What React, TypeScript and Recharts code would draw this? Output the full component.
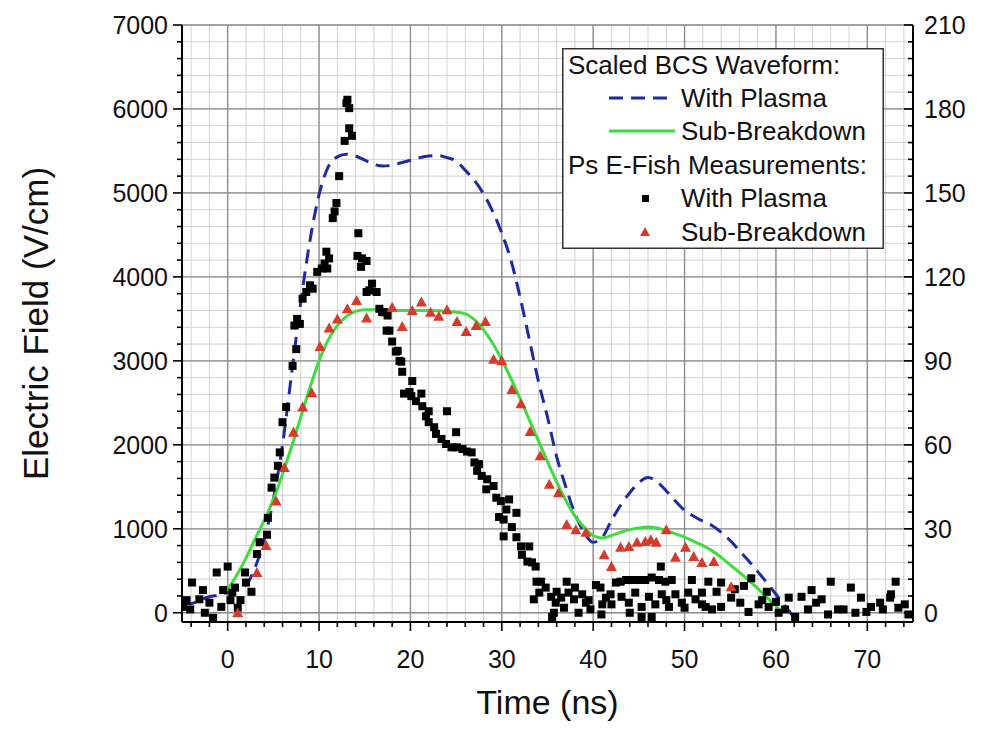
import React from 'react';
import { ComposedChart, XAxis, YAxis, CartesianGrid, Scatter, Line, Legend, Label } from 'recharts';

const FONT = '"Liberation Sans", Arial, Helvetica, sans-serif';

// ---- axes / ticks ----
const xDomain = [-5, 75];
const yDomain = [-110, 7000];
const xMajorTicks = [0, 10, 20, 30, 40, 50, 60, 70];
const xTickLabels = ['0', '10', '20', '30', '40', '50', '60', '70'];
const xMinorTicks = [-4, -2, 0, 2, 4, 6, 8, 10, 12, 14, 16, 18, 20, 22, 24, 26, 28, 30, 32, 34, 36, 38, 40, 42, 44, 46, 48, 50, 52, 54, 56, 58, 60, 62, 64, 66, 68, 70, 72, 74];
const yMajorTicks = [0, 1000, 2000, 3000, 4000, 5000, 6000, 7000];
const yLeftTickLabels = ['0', '1000', '2000', '3000', '4000', '5000', '6000', '7000'];
const yRightTickLabels = ['0', '30', '60', '90', '120', '150', '180', '210'];
const yMinorTicks = [0, 200, 400, 600, 800, 1000, 1200, 1400, 1600, 1800, 2000, 2200, 2400, 2600, 2800, 3000, 3200, 3400, 3600, 3800, 4000, 4200, 4400, 4600, 4800, 5000, 5200, 5400, 5600, 5800, 6000, 6200, 6400, 6600, 6800, 7000];

const xTitle = 'Time (ns)';
const yTitle = 'Electric Field (V/cm)';

// ---- series names ----
const legendHeader1 = 'Scaled BCS Waveform:';
const legendHeader2 = 'Ps E-Fish Measurements:';
const nameWithPlasma = 'With Plasma';
const nameSubBreakdown = 'Sub-Breakdown';

// ---- colours ----
const BLUE = '#1f2a9e';
const GREEN = '#3fdc3f';
const RED = '#d63a2b';
const BLACK = '#000000';

// ---- data: Scaled BCS waveform, with plasma (time ns, field V/cm) ----
const bcsWithPlasma: [number, number][] = [
  [-5, 100], [-4, 110], [-3, 150], [-2, 190], [-1, 210], [0, 240], [1, 280], [2, 330], [3, 540], [4, 870],
  [5, 1350], [6, 2000], [7, 2850], [8, 3700], [9, 4430], [10, 4980], [11, 5310], [12, 5430], [13, 5460],
  [14, 5440], [15, 5390], [16, 5340], [17, 5320], [18, 5330], [19, 5360], [20, 5390], [21, 5420], [22, 5440],
  [23, 5445], [24, 5420], [25, 5380], [26, 5270], [27, 5150], [28, 4990], [29, 4780], [30, 4520], [31, 4200],
  [32, 3760], [33, 3260], [34, 2760], [35, 2330], [36, 1860], [37, 1500], [38, 1180], [39, 960], [40, 840],
  [41, 900], [42, 1100], [43, 1280], [44, 1430], [45, 1550], [46, 1610], [47, 1560], [48, 1450], [49, 1330],
  [50, 1220], [51, 1150], [52, 1090], [53, 1040], [54, 960], [55, 860], [56, 740], [57, 620], [58, 490],
  [59, 360], [60, 220], [61, 80], [62, -60],
];

// ---- data: Scaled BCS waveform, sub-breakdown ----
const bcsSubBreakdown: [number, number][] = [
  [0, 280], [1, 450], [2, 650], [3, 880], [4, 1100], [5, 1350], [6, 1650], [7, 1980], [8, 2330], [9, 2680],
  [10, 3000], [11, 3250], [12, 3420], [13, 3530], [14, 3590], [15, 3610], [16, 3610], [18, 3600], [20, 3600],
  [22, 3600], [24, 3590], [26, 3560], [27, 3490], [28, 3370], [29, 3210], [30, 3010], [31, 2790], [32, 2550],
  [33, 2300], [34, 2050], [35, 1800], [36, 1560], [37, 1340], [38, 1150], [39, 1020], [40, 920], [41, 890],
  [42, 920], [43, 960], [44, 990], [45, 1010], [46, 1020], [47, 1010], [48, 980], [49, 940], [50, 900],
  [51, 850], [52, 800], [53, 740], [54, 660], [55, 570], [56, 480], [57, 390], [58, 290], [59, 180], [60, 80],
  [60.6, 10],
];

// ---- data: Ps E-FISH measurements, sub-breakdown (triangles) ----
const efishSubBreakdown: [number, number][] = [
  [1.1, 0], [3.2, 480], [4.2, 800], [5.3, 1330], [6.2, 1730], [7.2, 2150], [8.2, 2450], [9.2, 2620],
  [10.1, 3170], [11.1, 3390], [12.0, 3500], [13.1, 3620], [14.1, 3720], [15.2, 3510], [18.0, 3640],
  [19.1, 3410], [20.2, 3600], [21.2, 3700], [22.2, 3580], [23.1, 3530], [24.0, 3610], [25.1, 3470],
  [26.1, 3350], [27.2, 3420], [28.2, 3470], [29.1, 3020], [30.0, 3000], [31.1, 2660], [32.1, 2490],
  [33.1, 2160], [34.2, 1870], [35.2, 1530], [36.2, 1430], [37.1, 1050], [38.1, 990], [39.2, 960],
  [41.2, 690], [42.0, 550], [43.0, 780], [43.9, 790], [44.8, 840], [45.7, 850], [46.3, 870], [46.9, 840],
  [48.0, 990], [49.0, 660], [50.1, 780], [51.0, 670], [51.9, 600], [53.2, 610], [55.1, 310],
];

// ---- data: Ps E-FISH measurements, with plasma (squares) ----
const efishWithPlasma: [number, number][] = [
  [-4.9, 70], [-4.5, 150], [-4.1, 40], [-3.9, 360], [-3.1, 160], [-2.7, 270], [-2.5, 0], [-2.0, 120],
  [-1.6, -60], [-1.2, 480], [-0.7, 70], [-0.5, 270], [0.0, 550], [0.3, 150], [0.5, 240], [0.8, 300],
  [1.1, 60], [1.4, 150], [1.9, 480], [2.0, 360], [2.6, 250], [3.2, 700], [3.5, 840], [4.3, 930],
  [4.4, 1130], [4.8, 1490], [5.1, 1610], [5.5, 1750], [5.7, 1910], [6.0, 2270], [6.4, 2450], [7.1, 2940],
  [7.3, 3420], [7.5, 3140], [7.6, 3500], [7.9, 3440], [8.2, 3740], [8.6, 3820], [9.0, 3900], [9.3, 3860],
  [9.8, 4060], [10.3, 4100], [10.6, 4160], [10.8, 4300], [10.9, 4100], [11.1, 4220], [11.5, 4700],
  [11.7, 4780], [11.9, 4880], [12.2, 5200], [12.8, 5620], [13.0, 6070], [13.1, 6110], [13.3, 6010],
  [13.3, 5770], [13.6, 5680], [14.2, 4250], [14.3, 4520], [14.6, 4120], [14.7, 4220], [15.2, 4190],
  [15.2, 3820], [15.5, 3840], [15.8, 3920], [16.3, 3820], [16.6, 3620], [16.9, 3580], [17.1, 3580],
  [17.4, 3360], [17.5, 3540], [17.7, 3360], [18.0, 3230], [18.4, 3110], [18.6, 3120], [18.8, 3000],
  [19.0, 2990], [19.1, 2870], [19.3, 2610], [19.9, 2630], [20.1, 2580], [20.2, 2760], [20.6, 2520],
  [21.2, 2610], [21.3, 2460], [21.7, 2340], [22.0, 2400], [22.0, 2270], [22.6, 2210], [22.8, 2130],
  [23.4, 2070], [23.9, 2010], [24.0, 2400], [24.5, 1970], [25.0, 2150], [25.1, 1970], [25.7, 1950],
  [26.2, 1920], [26.7, 1910], [27.0, 1790], [27.3, 1690], [27.5, 1770], [27.8, 1630], [28.3, 1470],
  [28.4, 1590], [29.1, 1510], [29.4, 1370], [29.7, 1140], [29.9, 1330], [30.2, 1110], [30.2, 910],
  [30.5, 1230], [30.8, 1350], [31.1, 1020], [31.6, 1190], [31.6, 900], [32.1, 790], [32.2, 690],
  [32.8, 610], [33.0, 790], [33.3, 600], [33.5, 160], [33.7, 550], [33.8, 370], [34.1, 240], [34.3, 370],
  [34.8, 300], [35.4, 190], [35.5, -50], [35.7, 0], [35.9, 120], [36.0, 250], [36.5, 180], [36.8, 60],
  [37.1, 370], [37.3, 240], [37.9, 160], [38.0, 300], [38.4, 0], [38.8, 220], [39.2, 120], [39.5, 150],
  [39.7, 40], [40.3, 330], [40.8, 300], [40.9, -20], [41.0, 100], [41.4, 180], [41.9, 220], [42.0, 100],
  [42.5, 360], [43.0, 370], [43.1, 190], [43.6, 390], [43.9, 120], [44.0, 0], [44.2, 390], [44.6, 240],
  [45.0, 390], [45.3, 70], [45.3, -50], [45.7, 390], [46.1, 190], [46.4, 420], [46.4, -50], [46.8, 100],
  [47.2, 390], [47.4, 550], [47.5, 220], [47.9, 370], [48.0, 150], [48.3, 70], [48.6, 390], [49.0, 220],
  [49.7, 120], [50.0, 60], [50.4, 240], [50.8, 390], [51.2, 160], [51.9, 240], [51.9, 100], [52.3, 70],
  [52.6, 370], [53.0, 40], [53.5, 250], [54.0, 360], [54.0, 70], [55.1, 180], [55.5, 280], [56.1, 120],
  [56.5, 320], [57.0, 10], [57.3, 410], [58.1, 100], [58.5, 150], [59.0, 250], [59.2, 70], [60.0, 130],
  [60.3, 0], [61.0, 40], [61.4, 180], [62.1, -50], [62.8, 190], [63.5, 40], [63.9, 270], [64.4, 120],
  [65.0, 160], [65.7, -20], [66.0, 370], [66.8, 40], [67.4, 40], [68.2, 300], [68.7, 0], [69.3, 180],
  [69.9, 10], [70.4, 70], [71.4, 120], [71.7, 40], [72.5, 180], [72.6, 220], [73.1, 370], [73.4, 60],
  [74.1, 100], [74.5, -20],
];

const toXY = (arr: [number, number][]) => arr.map(([x, y]) => ({ x, y }));

// ---- custom ticks ----
const BottomTick = (props: any) => {
  const { x, y, payload } = props;
  const i = xMajorTicks.indexOf(payload.value);
  const major = i >= 0;
  return (
    <g>
      <line x1={x} y1={y} x2={x} y2={y + (major ? 9 : 5)} stroke="#000" strokeWidth={1.6} />
      {major && (
        <text x={x} y={y + 46} textAnchor="middle" fontSize={25} fontFamily={FONT} fill="#111">
          {xTickLabels[i]}
        </text>
      )}
    </g>
  );
};

const TopTick = (props: any) => {
  const { x, y, payload } = props;
  const major = xMajorTicks.indexOf(payload.value) >= 0;
  return <line x1={x} y1={y} x2={x} y2={y + (major ? 9 : 5)} stroke="#000" strokeWidth={1.6} />;
};

const LeftTick = (props: any) => {
  const { x, y, payload } = props;
  const i = yMajorTicks.indexOf(payload.value);
  const major = i >= 0;
  return (
    <g>
      <line x1={x} y1={y} x2={x - (major ? 9 : 5)} y2={y} stroke="#000" strokeWidth={1.6} />
      {major && (
        <text x={x - 14} y={y} dy="0.36em" textAnchor="end" fontSize={25} fontFamily={FONT} fill="#111">
          {yLeftTickLabels[i]}
        </text>
      )}
    </g>
  );
};

const RightTick = (props: any) => {
  const { x, y, payload } = props;
  const i = yMajorTicks.indexOf(payload.value);
  const major = i >= 0;
  return (
    <g>
      <line x1={x} y1={y} x2={x - (major ? 9 : 5)} y2={y} stroke="#000" strokeWidth={1.6} />
      {major && (
        <text x={x + 11} y={y} dy="0.36em" textAnchor="start" fontSize={25} fontFamily={FONT} fill="#111">
          {yRightTickLabels[i]}
        </text>
      )}
    </g>
  );
};

// ---- markers ----
const SquareShape = (p: any) => (
  <rect x={p.cx - 4} y={p.cy - 4} width={8} height={8} fill={BLACK} />
);
const TriangleShape = (p: any) => (
  <path d={`M${p.cx},${p.cy - 5.5} L${p.cx + 5.5},${p.cy + 4.5} L${p.cx - 5.5},${p.cy + 4.5} Z`} fill={RED} />
);

// ---- titles ----
const YTitle = (props: any) => {
  const vb = props.viewBox || { x: 0, y: 0, width: 0, height: 0 };
  const cx = vb.x + 31;
  const cy = vb.y + vb.height / 2;
  return (
    <text transform={`translate(${cx},${cy}) rotate(-90)`} textAnchor="middle" fontSize={35} fontFamily={FONT} fill="#111">
      {yTitle}
    </text>
  );
};
const XTitle = (props: any) => {
  const vb = props.viewBox || { x: 0, y: 0, width: 0, height: 0 };
  return (
    <text x={vb.x + vb.width / 2} y={vb.y + 92} textAnchor="middle" fontSize={34} fontFamily={FONT} fill="#111">
      {xTitle}
    </text>
  );
};

// ---- legend ----
const LEG_FS = 26;
const renderLegend = () => (
  <svg width={322} height={201} style={{ display: 'block', overflow: 'visible' }}>
    <rect x={0.75} y={0.75} width={320.5} height={199.5} fill="#fff" stroke="#333" strokeWidth={1.5} />
    <g fontFamily={FONT} fontSize={LEG_FS} fill="#111">
      <text x={6} y={17} dominantBaseline="central">{legendHeader1}</text>
      <line x1={47} y1={50} x2={113} y2={50} stroke={BLUE} strokeWidth={3} strokeDasharray="14 8" />
      <text x={119} y={50} dominantBaseline="central">{nameWithPlasma}</text>
      <line x1={47} y1={83} x2={113} y2={83} stroke={GREEN} strokeWidth={3} />
      <text x={119} y={83} dominantBaseline="central">{nameSubBreakdown}</text>
      <text x={6} y={117} dominantBaseline="central">{legendHeader2}</text>
      <rect x={80} y={147} width={7} height={7} fill={BLACK} />
      <text x={119} y={150} dominantBaseline="central">{nameWithPlasma}</text>
      <path d="M83,179 L88,188 L78,188 Z" fill={RED} />
      <text x={119} y={184} dominantBaseline="central">{nameSubBreakdown}</text>
    </g>
  </svg>
);

export default function App() {
  return (
    <div style={{ width: 970, height: 715, fontFamily: FONT }}>
      <ComposedChart
        width={970}
        height={715}
        margin={{ top: 17, right: 5, bottom: 11, left: 9 }}
        style={{ background: '#fff' }}
      >
        <XAxis xAxisId="major" dataKey="x" type="number" domain={xDomain} ticks={xMajorTicks} hide allowDataOverflow />
        <YAxis yAxisId="major" dataKey="y" type="number" domain={yDomain} ticks={yMajorTicks} hide allowDataOverflow />
        <CartesianGrid stroke="#d2d2d2" strokeWidth={1} />
        <CartesianGrid xAxisId="major" yAxisId="major" stroke="#8a8a8a" strokeWidth={1.3} />

        <XAxis
          dataKey="x"
          type="number"
          domain={xDomain}
          ticks={xMinorTicks}
          interval={0}
          allowDataOverflow
          height={90}
          tickSize={0}
          tickMargin={0}
          tickLine={false}
          axisLine={{ stroke: '#000', strokeWidth: 2 }}
          tick={<BottomTick />}
        >
          <Label content={<XTitle />} />
        </XAxis>
        <XAxis
          xAxisId="top"
          orientation="top"
          dataKey="x"
          type="number"
          domain={xDomain}
          ticks={xMinorTicks}
          interval={0}
          allowDataOverflow
          height={0}
          tickSize={0}
          tickMargin={0}
          tickLine={false}
          axisLine={{ stroke: '#000', strokeWidth: 2 }}
          tick={<TopTick />}
        />
        <YAxis
          dataKey="y"
          type="number"
          domain={yDomain}
          ticks={yMinorTicks}
          interval={0}
          allowDataOverflow
          width={165}
          tickSize={0}
          tickMargin={0}
          tickLine={false}
          axisLine={{ stroke: '#000', strokeWidth: 2 }}
          tick={<LeftTick />}
        >
          <Label content={<YTitle />} />
        </YAxis>
        <YAxis
          yAxisId="right"
          orientation="right"
          dataKey="y"
          type="number"
          domain={yDomain}
          ticks={yMinorTicks}
          interval={0}
          allowDataOverflow
          width={60}
          tickSize={0}
          tickMargin={0}
          tickLine={false}
          axisLine={{ stroke: '#000', strokeWidth: 2 }}
          tick={<RightTick />}
        />

        <Scatter
          name={nameWithPlasma + ' (E-FISH)'}
          data={toXY(efishWithPlasma)}
          dataKey="y"
          fill={BLACK}
          shape={<SquareShape />}
          isAnimationActive={false}
        />
        <Line
          name={nameWithPlasma}
          data={toXY(bcsWithPlasma)}
          dataKey="y"
          type="monotone"
          stroke={BLUE}
          strokeWidth={3}
          strokeDasharray="14 8"
          dot={false}
          activeDot={false}
          isAnimationActive={false}
        />
        <Line
          name={nameSubBreakdown}
          data={toXY(bcsSubBreakdown)}
          dataKey="y"
          type="monotone"
          stroke={GREEN}
          strokeWidth={3}
          dot={false}
          activeDot={false}
          isAnimationActive={false}
        />
        <Scatter
          name={nameSubBreakdown + ' (E-FISH)'}
          data={toXY(efishSubBreakdown)}
          dataKey="y"
          fill={RED}
          shape={<TriangleShape />}
          isAnimationActive={false}
        />
        <Legend
          layout="horizontal"
          verticalAlign="middle"
          align="center"
          wrapperStyle={{ left: 554, top: 40, width: 322, height: 201 }}
          content={renderLegend}
        />
      </ComposedChart>
    </div>
  );
}
